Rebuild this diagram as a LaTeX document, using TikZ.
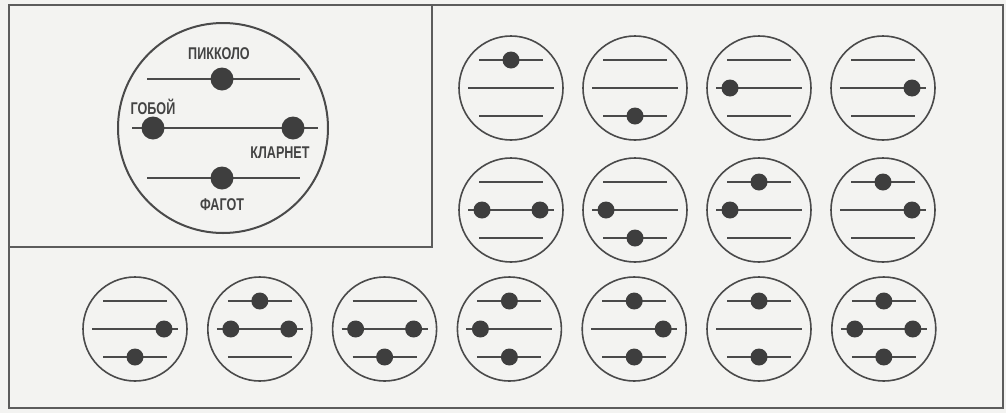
\documentclass[tikz,border=0pt]{standalone}
\usepackage{fontspec}
\newfontfamily\labfont[FakeStretch=0.74]{Liberation Sans Bold}
\definecolor{ink}{HTML}{4A4A4A}
\definecolor{dotc}{HTML}{3E3E3E}
\definecolor{paper}{HTML}{F3F3F1}
\newcommand\mycirc[4]{%
  \begin{scope}[shift={(#1,#2)}]
    \draw[ring] (0,0) circle (52);
    \draw[bar] (-32,-28) -- (32,-28);
    \draw[bar] (-43,0) -- (43,0);
    \draw[bar] (-32,28) -- (32,28);
    \coordinate (#3T) at (0,-28);
    \coordinate (#3L) at (-29,0);
    \coordinate (#3R) at (29,0);
    \coordinate (#3B) at (0,28);
    \foreach \d in {#4} \fill[dot] (#3\d) circle (8.5);
  \end{scope}}
\begin{document}
\begin{tikzpicture}[x=1pt,y=-1pt,
  ring/.style={draw=ink,line width=1.6pt},
  bar/.style={draw=ink,line width=1.5pt},
  dot/.style={fill=dotc},
  frame/.style={draw=ink!90,line width=2.4pt},
  lab/.style={text=ink!90!black,font=\labfont\fontsize{17}{17}\selectfont,inner sep=0pt}]
\useasboundingbox[fill=paper] (0,0) rectangle (1006,413);
% frame
\draw[frame] (9,5) rectangle (1003,408);
\draw[frame] (9,247) -- (432,247) -- (432,5);
% big circle
\draw[ring,line width=2pt] (223,128) circle (105);
\coordinate (p1) at (147,79);  \coordinate (p2) at (300,79);
\coordinate (m1) at (132,128); \coordinate (m2) at (318,128);
\coordinate (f1) at (147,178); \coordinate (f2) at (300,178);
\draw[bar,line width=1.7pt] (p1) -- (p2);
\draw[bar,line width=1.7pt] (m1) -- (m2);
\draw[bar,line width=1.7pt] (f1) -- (f2);
\fill[dot] (222,79) circle (11.5);
\fill[dot] (153,128) circle (11.5);
\fill[dot] (293,128) circle (11.5);
\fill[dot] (222,178) circle (11.5);
\node[lab] (picc) at (219,54) {ПИККОЛО};
\node[lab] (oboe) at (153,107) {ГОБОЙ};
\node[lab] (clar) at (280,153) {КЛАРНЕТ};
\node[lab] (bass) at (222,205) {ФАГОТ};
% row 1
\mycirc{511}{88}{a}{T}
\mycirc{635}{88}{b}{B}
\mycirc{759}{88}{c}{L}
\mycirc{883}{88}{d}{R}
% row 2
\mycirc{511}{210}{e}{L,R}
\mycirc{635}{210}{f}{L,B}
\mycirc{759}{210}{g}{T,L}
\mycirc{883}{210}{h}{T,R}
% row 3
\mycirc{135}{329}{i}{R,B}
\mycirc{259.8}{329}{j}{T,L,R}
\mycirc{384.6}{329}{k}{L,R,B}
\mycirc{509.4}{329}{l}{T,L,B}
\mycirc{634.2}{329}{m}{T,R,B}
\mycirc{759}{329}{n}{T,B}
\mycirc{883.8}{329}{o}{T,L,R,B}
\end{tikzpicture}
\end{document}
